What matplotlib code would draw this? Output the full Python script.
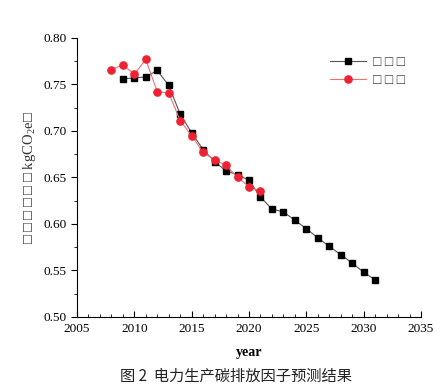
import matplotlib
matplotlib.use("Agg")
import matplotlib.pyplot as plt
from matplotlib.ticker import MultipleLocator

years_pred = list(range(2009, 2032))
pred = [0.756, 0.757, 0.758, 0.765, 0.749, 0.718, 0.698, 0.680, 0.667, 0.657,
        0.653, 0.647, 0.629, 0.616, 0.613, 0.604, 0.595, 0.585, 0.576, 0.567,
        0.558, 0.548, 0.540]
years_act = list(range(2008, 2022))
act = [0.766, 0.771, 0.761, 0.777, 0.742, 0.741, 0.711, 0.695, 0.677, 0.669,
       0.663, 0.650, 0.640, 0.635]
legend_labels = ["□ □ □", "□ □ □"]
ylabel = "□ □ □ □ □ □ kgCO$_2$e□"
xlabel = "year"
caption = "图 2  电力生产碳排放因子预测结果"

plt.rcParams['font.family'] = ['Liberation Serif', 'DejaVu Sans']
plt.rcParams['mathtext.fontset'] = 'custom'
plt.rcParams['mathtext.rm'] = 'Liberation Serif'

fig = plt.figure(figsize=(4.45, 3.87), dpi=100)
ax = fig.add_axes([0.173, 0.181, 0.773, 0.721])

ax.plot(years_pred, pred, color='#555555', lw=0.8, marker='s', ms=4.5,
        mfc='black', mec='black', label=legend_labels[0])
ax.plot(years_act, act, color='#f07070', lw=0.8, marker='o', ms=5.2,
        mfc='#ee2233', mec='#ee2233', label=legend_labels[1])

ax.set_xlim(2005, 2035)
ax.set_ylim(0.50, 0.80)
ax.xaxis.set_major_locator(MultipleLocator(5))
ax.xaxis.set_minor_locator(MultipleLocator(1))
ax.yaxis.set_major_locator(MultipleLocator(0.05))
ax.yaxis.set_minor_locator(MultipleLocator(0.025))
ax.yaxis.set_major_formatter(matplotlib.ticker.FormatStrFormatter('%.2f'))
ax.spines['top'].set_visible(False)
ax.spines['right'].set_visible(False)
for s in ['left', 'bottom']:
    ax.spines[s].set_linewidth(0.8)
ax.tick_params(axis='x', which='major', direction='in', length=4, width=0.8, labelsize=9.5, pad=4)
ax.tick_params(axis='x', which='minor', direction='in', length=2, width=0.6)
ax.tick_params(axis='y', which='major', direction='out', length=4, width=0.8, labelsize=9.5)
ax.tick_params(axis='y', which='minor', direction='out', length=2, width=0.6)

ax.set_xlabel(xlabel, fontsize=10, fontweight='bold', labelpad=8)
ax.set_ylabel(ylabel, fontsize=10.5, color='#333333', labelpad=4)

leg = ax.legend(loc='upper right', bbox_to_anchor=(0.99, 0.98), frameon=False,
                fontsize=10, handlelength=2.6, labelspacing=0.35, handletextpad=0.5)
for t in leg.get_texts():
    t.set_color('#333333')

fig.text(0.53, 0.028, caption, ha='center', va='center', fontsize=11,
         family=['Noto Sans CJK SC', 'Liberation Serif'], color='#222222')

fig.savefig('out.png', dpi=100)
